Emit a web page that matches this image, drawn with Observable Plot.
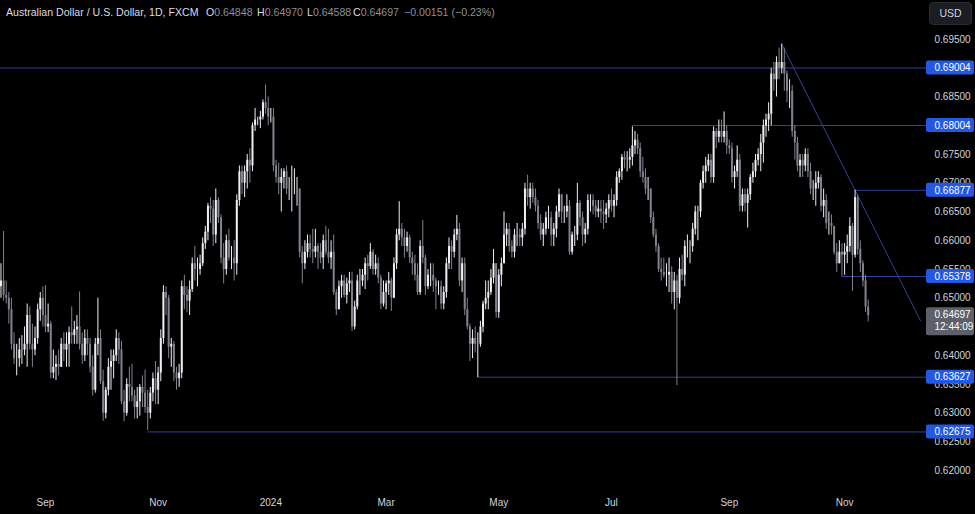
<!DOCTYPE html>
<html>
<head>
<meta charset="utf-8">
<script src="https://cdn.jsdelivr.net/npm/d3@7"></script>
<script src="https://cdn.jsdelivr.net/npm/@observablehq/plot@0.6"></script>
<style>
html, body { margin: 0; padding: 0; background: #000; }
#wrap { position: relative; width: 975px; height: 514px; overflow: hidden; background: #000;
  font-family: "Liberation Sans", Arial, sans-serif; }
#wrap svg { display: block; }
.hdr { position: absolute; top: 6px; font-size: 10.6px; line-height: 13px; white-space: nowrap; color: #d9dce3; }
.num { color: #8c8f98; }
#usd { position: absolute; left: 929px; top: 2px; width: 43px; height: 23px; border-radius: 4px;
  background: #1b1d22; border: 1px solid #2a2d35; box-sizing: border-box; color: #d1d4dc;
  font-size: 10.5px; line-height: 21px; text-align: center; }
</style>
</head>
<body>
<div id="wrap">
  <div class="hdr" style="left:6px">Australian Dollar / U.S. Dollar, 1D, FXCM</div>
  <div class="hdr" style="left:206px">O<span class="num">0.64848</span></div>
  <div class="hdr" style="left:257px">H<span class="num">0.64970</span></div>
  <div class="hdr" style="left:307px">L<span class="num">0.64588</span></div>
  <div class="hdr" style="left:353px">C<span class="num">0.64697</span></div>
  <div class="hdr num" style="left:404px">−0.00151 (−0.23%)</div>
  <div id="usd">USD</div>
</div>
<script>
// ---- Daily AUD/USD (FXCM) bars. First bar: 2023-08-08, weekdays only.
// Open of each bar = previous bar's close (continuous FX session).
const firstOpen = 0.6575;
const startDate = "2023-08-08";

const close = [
  // Aug 2023
  .6520,.6530,.6505,.6500,.6480,.6420,.6395,.6395,.6410,.6410,.6420,.6470,.6420,.6410,.6430,.6480,.6500,.6470,
  // Sep 2023
  .6450,.6455,.6370,.6380,.6385,.6380,.6420,.6410,.6420,.6440,.6435,.6445,.6450,.6420,.6400,.6430,.6420,.6380,.6340,.6420,.6430,
  // Oct 2023
  .6355,.6300,.6340,.6380,.6390,.6400,.6430,.6410,.6320,.6300,.6350,.6345,.6330,.6310,.6320,.6345,.6335,.6310,.6300,.6335,.6360,.6340,
  // Nov 2023
  .6370,.6430,.6510,.6500,.6415,.6420,.6370,.6360,.6370,.6520,.6505,.6495,.6515,.6560,.6550,.6550,.6560,.6595,.6615,.6660,.6655,.6610,
  // Dec 2023
  .6670,.6640,.6570,.6550,.6600,.6570,.6570,.6560,.6670,.6720,.6700,.6720,.6740,.6730,.6800,.6810,.6810,.6815,.6840,.6830,.6815,
  // Jan 2024
  .6815,.6730,.6710,.6700,.6710,.6720,.6690,.6690,.6690,.6690,.6690,.6580,.6560,.6580,.6595,.6585,.6580,.6590,.6580,.6570,.6600,.6580,.6570,
  // Feb 2024
  .6580,.6510,.6480,.6520,.6530,.6505,.6525,.6530,.6450,.6485,.6530,.6530,.6540,.6560,.6555,.6580,.6550,.6560,.6535,.6490,.6510,
  // Mar 2024
  .6525,.6530,.6500,.6560,.6610,.6620,.6605,.6590,.6605,.6570,.6560,.6540,.6510,.6590,.6570,.6520,.6540,.6540,.6530,.6520,.6520,
  // Apr 2024
  .6490,.6510,.6560,.6590,.6580,.6610,.6620,.6530,.6560,.6480,.6450,.6420,.6430,.6420,.6420,.6450,.6490,.6500,.6510,.6535,.6560,.6475,
  // May 2024
  .6540,.6560,.6610,.6620,.6590,.6580,.6610,.6610,.6605,.6620,.6690,.6675,.6690,.6675,.6660,.6630,.6610,.6620,.6640,.6640,.6610,.6620,.6650,
  // Jun 2024
  .6680,.6650,.6650,.6660,.6580,.6610,.6610,.6665,.6640,.6610,.6620,.6670,.6670,.6660,.6650,.6655,.6650,.6645,.6655,.6670,
  // Jul 2024
  .6660,.6670,.6710,.6720,.6745,.6740,.6740,.6745,.6765,.6775,.6760,.6720,.6710,.6690,.6690,.6640,.6610,.6590,.6550,.6545,.6540,.6540,.6545,
  // Aug 2024
  .6510,.6530,.6500,.6550,.6540,.6590,.6590,.6590,.6620,.6650,.6650,.6700,.6720,.6730,.6740,.6710,.6790,.6780,.6790,.6780,.6790,.6765,
  // Sep 2024
  .6760,.6710,.6720,.6740,.6660,.6680,.6665,.6680,.6710,.6720,.6740,.6750,.6770,.6800,.6810,.6820,.6890,.6880,.6910,.6900,.6910,
  // Oct 2024
  .6890,.6860,.6860,.6790,.6770,.6730,.6740,.6730,.6750,.6720,.6690,.6690,.6700,.6710,.6660,.6670,.6630,.6630,.6625,.6580,.6560,.6580,.6575,
  // Nov 2024
  .6580,.6590,.6625,.6575,.6675,.6585,.6560,.6530,.64848,.64697
];

const high = [
  .6575,.6560,.6616,.6530,.6510,.6500,.6440,.6420,.6430,.6435,.6450,.6490,.6485,.6455,.6450,.6490,.6510,.6520,
  .6522,.6490,.6460,.6410,.6400,.6410,.6430,.6440,.6440,.6450,.6485,.6460,.6470,.6511,.6440,.6445,.6445,.6430,.6400,.6430,.6500,
  .6445,.6375,.6345,.6395,.6410,.6410,.6445,.6440,.6425,.6340,.6360,.6380,.6385,.6340,.6345,.6350,.6365,.6375,.6340,.6345,.6370,.6390,
  .6380,.6445,.6522,.6520,.6505,.6430,.6425,.6380,.6385,.6530,.6540,.6520,.6530,.6570,.6590,.6570,.6575,.6605,.6625,.6665,.6675,.6670,
  .6690,.6675,.6645,.6595,.6610,.6620,.6590,.6600,.6680,.6730,.6730,.6730,.6750,.6760,.6805,.6830,.6815,.6825,.6845,.6871,.6850,
  .6830,.6830,.6740,.6735,.6725,.6725,.6730,.6710,.6730,.6725,.6710,.6690,.6590,.6600,.6610,.6610,.6620,.6620,.6595,.6595,.6610,.6625,.6620,
  .6600,.6610,.6515,.6530,.6540,.6540,.6535,.6545,.6545,.6495,.6540,.6550,.6550,.6570,.6575,.6595,.6585,.6575,.6570,.6540,.6530,
  .6530,.6545,.6535,.6570,.6620,.6668,.6630,.6620,.6615,.6610,.6580,.6575,.6560,.6600,.6635,.6575,.6550,.6560,.6560,.6535,.6530,
  .6530,.6520,.6570,.6605,.6600,.6620,.6644,.6630,.6570,.6570,.6500,.6455,.6445,.6450,.6440,.6460,.6495,.6530,.6530,.6550,.6585,.6560,
  .6550,.6570,.6650,.6630,.6630,.6600,.6620,.6630,.6620,.6630,.6700,.6714,.6700,.6700,.6690,.6670,.6645,.6630,.6650,.6660,.6650,.6630,.6660,
  .6690,.6680,.6660,.6680,.6670,.6615,.6625,.6700,.6670,.6650,.6630,.6680,.6680,.6680,.6670,.6670,.6670,.6670,.6665,.6680,
  .6690,.6680,.6720,.6725,.6750,.6755,.6755,.6760,.6798,.6790,.6785,.6770,.6745,.6725,.6710,.6690,.6650,.6620,.6595,.6570,.6570,.6560,.6570,
  .6555,.6545,.6540,.6570,.6575,.6600,.6610,.6600,.6630,.6660,.6660,.6705,.6730,.6745,.6750,.6750,.6798,.6795,.6810,.6810,.6824,.6800,
  .6775,.6770,.6730,.6765,.6750,.6690,.6690,.6690,.6715,.6735,.6750,.6760,.6785,.6810,.6820,.6840,.6900,.6910,.6920,.6935,.6942,
  .6935,.6895,.6880,.6870,.6800,.6780,.6750,.6750,.6760,.6760,.6735,.6705,.6720,.6720,.6715,.6690,.6680,.6650,.6645,.6625,.6595,.6600,.6595,
  .6595,.6610,.6640,.6630,.6688,.6680,.6600,.6565,.6540,.64970
];

const low = [
  .6500,.6500,.6495,.6490,.6455,.6410,.6385,.6365,.6380,.6385,.6400,.6380,.6410,.6380,.6400,.6420,.6460,.6450,
  .6440,.6440,.6360,.6360,.6357,.6365,.6380,.6390,.6380,.6380,.6420,.6420,.6420,.6410,.6385,.6390,.6400,.6370,.6330,.6335,.6400,
  .6350,.6286,.6290,.6330,.6340,.6360,.6390,.6385,.6315,.6285,.6295,.6320,.6320,.6290,.6290,.6295,.6310,.6300,.6270,.6290,.6320,.6315,
  .6315,.6355,.6420,.6470,.6395,.6380,.6355,.6340,.6345,.6360,.6480,.6475,.6470,.6510,.6530,.6520,.6540,.6555,.6585,.6600,.6630,.6590,
  .6595,.6630,.6560,.6525,.6540,.6565,.6550,.6530,.6540,.6660,.6680,.6675,.6690,.6700,.6720,.6790,.6800,.6795,.6810,.6820,.6800,
  .6805,.6720,.6700,.6680,.6650,.6690,.6680,.6670,.6650,.6680,.6660,.6570,.6525,.6550,.6570,.6570,.6560,.6570,.6550,.6560,.6550,.6575,.6560,
  .6550,.6505,.6470,.6480,.6500,.6500,.6490,.6510,.6442,.6445,.6480,.6505,.6520,.6515,.6530,.6550,.6540,.6540,.6525,.6480,.6485,
  .6480,.6505,.6477,.6500,.6550,.6600,.6590,.6570,.6580,.6560,.6540,.6530,.6505,.6505,.6560,.6505,.6515,.6520,.6510,.6480,.6505,
  .6480,.6480,.6500,.6550,.6550,.6570,.6600,.6520,.6510,.6470,.6445,.6390,.6395,.6405,.6362,.6415,.6440,.6480,.6480,.6505,.6525,.6465,
  .6465,.6520,.6560,.6590,.6580,.6570,.6570,.6590,.6590,.6590,.6610,.6660,.6655,.6665,.6650,.6620,.6600,.6590,.6610,.6620,.6590,.6590,.6605,
  .6640,.6630,.6630,.6640,.6575,.6575,.6590,.6600,.6625,.6590,.6595,.6610,.6650,.6645,.6640,.6640,.6630,.6620,.6630,.6640,
  .6650,.6640,.6660,.6700,.6705,.6725,.6720,.6725,.6730,.6750,.6750,.6710,.6700,.6680,.6670,.6630,.6605,.6580,.6545,.6530,.6535,.6520,.6510,
  .6490,.6480,.6348,.6490,.6530,.6520,.6570,.6560,.6580,.6610,.6600,.6640,.6690,.6700,.6720,.6700,.6700,.6760,.6770,.6770,.6770,.6750,
  .6750,.6700,.6690,.6710,.6650,.6650,.6650,.6622,.6670,.6700,.6710,.6730,.6720,.6735,.6780,.6790,.6800,.6860,.6850,.6880,.6890,
  .6860,.6840,.6830,.6780,.6740,.6720,.6710,.6710,.6720,.6710,.6680,.6670,.6660,.6690,.6650,.6640,.6620,.6610,.6610,.6575,.6545,.6560,.6538,
  .6540,.6560,.6580,.6512,.6570,.6575,.6545,.6520,.6475,.64588
];

// Horizontal support / resistance levels (price, starting bar date)
const levelPrices = [0.69004, 0.68004, 0.66877, 0.65378, 0.63627, 0.62675];
const levelStart  = [null, "2024-07-11", "2024-11-07", "2024-10-31", "2024-04-19", "2023-10-26"];

// Descending trendline: from the Sep 30 2024 high through the Nov 7 2024 high, to the chart edge
const trendPrices = [0.6942, 0.6461];
const trendStart = "2024-09-30";

// Axis ticks (those fully hidden under price tags are left out)
const yTicks = [0.620,0.625,0.630,0.635,0.640,0.650,0.655,0.660,0.665,0.670,0.675,0.685,0.695];
const monthTickDates  = ["2023-09-01","2023-11-01","2024-01-01","2024-03-01","2024-05-01","2024-07-01","2024-09-02","2024-11-01"];
const monthTickLabels = ["Sep","Nov","2024","Mar","May","Jul","Sep","Nov"];

const lastTime = "12:44:09";

// ---- build
const parse = d3.utcParse("%Y-%m-%d"), fmtD = d3.utcFormat("%Y-%m-%d");
const dates = [];
for (let d = parse(startDate); dates.length < close.length; d = d3.utcDay.offset(d, 1)) {
  const wd = d.getUTCDay();
  if (wd !== 0 && wd !== 6) dates.push(fmtD(d));
}
const idxOf = s => dates.indexOf(s);

const X_MIN = 0.82, X_MAX = 351.97;
const UP = "#eceef2", DOWN = "#80838d", LINE = "#33409a";

const bars = close.map((c, i) => ({
  i, close: c, open: i ? close[i - 1] : firstOpen, high: high[i], low: low[i]
}));
const col = d => d.close >= d.open ? UP : DOWN;

const levels = levelPrices.map((p, k) => ({price: p, from: levelStart[k] ? idxOf(levelStart[k]) : X_MIN}));
const trend = [{i: idxOf(trendStart), p: trendPrices[0]}, {i: X_MAX, p: trendPrices[1]}];
const monthTicks = monthTickDates.map(idxOf);
const tickLabel = new Map(monthTicks.map((v, k) => [v, monthTickLabels[k]]));
const last = bars[bars.length - 1];
const f5 = d3.format(".5f");

function boxed(fill, top, h) {
  return function(index, scales, values, dimensions, context, next) {
    const g = next(index, scales, values, dimensions, context);
    const outer = d3.create("svg:g");
    for (const i of index) {
      outer.append("rect")
        .attr("x", values.x[i] + 6).attr("y", values.y[i] + top)
        .attr("width", 48).attr("height", h).attr("rx", 2).attr("fill", fill);
    }
    outer.node().appendChild(g);
    return outer.node();
  };
}

const chart = Plot.plot({
  width: 975,
  height: 514,
  marginLeft: 0, marginRight: 55, marginTop: 0, marginBottom: 30,
  style: {background: "#000", color: "#d1d4dc", fontFamily: "Liberation Sans, Arial, sans-serif", fontSize: "10px", overflow: "visible"},
  x: {type: "linear", domain: [X_MIN, X_MAX]},
  y: {domain: [0.617609, 0.701783]},
  color: {type: "identity"},
  marks: [
    // level lines & trendline
    Plot.ruleY(levels, {y: "price", x1: "from", x2: () => X_MAX + 2.3, stroke: LINE, strokeWidth: 1}),
    Plot.line(trend, {x: "i", y: "p", stroke: LINE, strokeWidth: 1}),
    // candles
    Plot.ruleX(bars, {x: "i", y1: "low", y2: "high", stroke: col, strokeWidth: 1}),
    Plot.ruleX(bars, {x: "i", y1: "open", y2: "close", stroke: col, strokeWidth: 2}),
    // axes
    Plot.axisX(monthTicks, {tickFormat: v => tickLabel.get(v), tickSize: 0, tickPadding: 14, fill: "#d1d4dc", fontSize: 10}),
    Plot.axisY(yTicks, {anchor: "right", tickSize: 0, tickPadding: 14, tickFormat: f5, fill: "#d1d4dc", fontSize: 10}),
    // level tags
    Plot.text(levels, {
      x: () => X_MAX, y: "price", text: d => f5(d.price), dx: 14, textAnchor: "start",
      fill: "#ffffff", fontSize: 10, render: boxed("#2358e2", -7, 14)
    }),
    // last price tag
    Plot.text([last], {
      x: () => X_MAX, y: "close", text: d => f5(d.close) + "\n" + lastTime, dx: 14, textAnchor: "start",
      lineAnchor: "top", dy: -6, lineHeight: 1.2, fill: "#ffffff", fontSize: 10,
      render: boxed("#5e6069", -8, 28)
    })
  ]
});
document.getElementById("wrap").prepend(chart);
</script>
</body>
</html>
